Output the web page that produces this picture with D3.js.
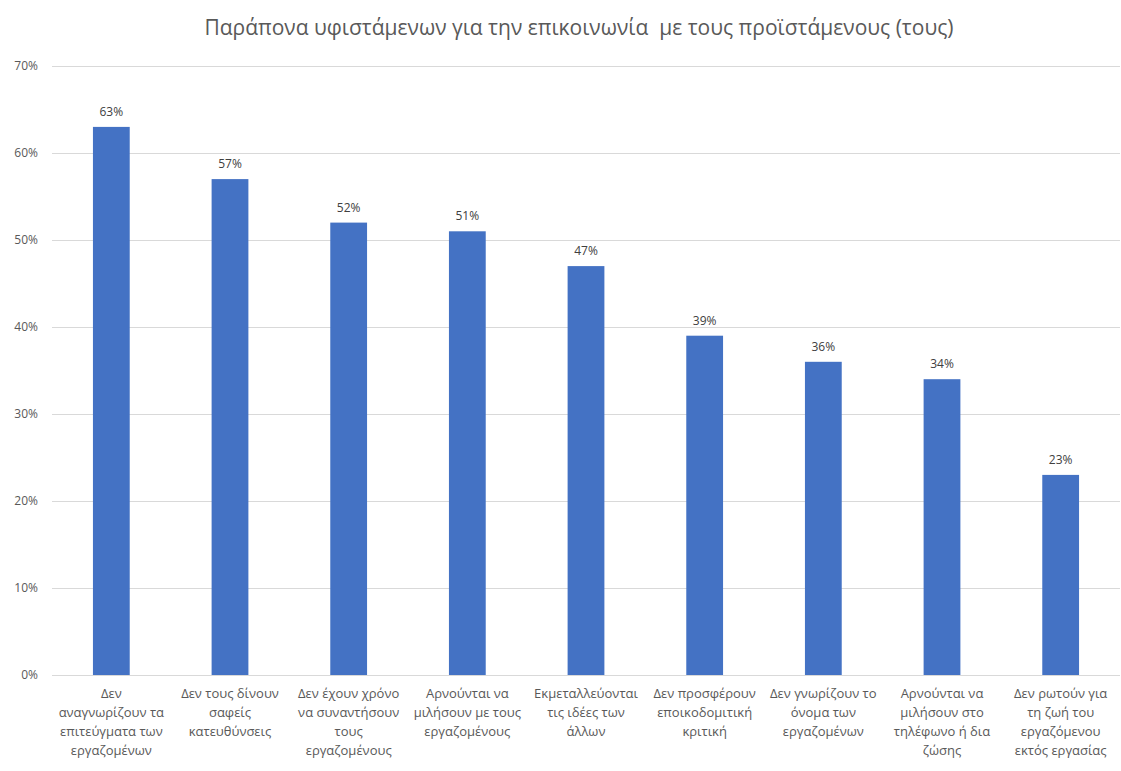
<!DOCTYPE html>
<html>
<head>
<meta charset="utf-8">
<script src="https://cdn.jsdelivr.net/npm/d3@7"></script>
<style>
	body { margin: 0; background: #fff; }
	svg { display: block; }
</style>
</head>
<body>
<script>
const categories = [
	['Δεν', 'αναγνωρίζουν τα', 'επιτεύγματα των', 'εργαζομένων'],
	['Δεν τους δίνουν', 'σαφείς', 'κατευθύνσεις'],
	['Δεν έχουν χρόνο', 'να συναντήσουν', 'τους', 'εργαζομένους'],
	['Αρνούνται να', 'μιλήσουν με τους', 'εργαζομένους'],
	['Εκμεταλλεύονται', 'τις ιδέες των', 'άλλων'],
	['Δεν προσφέρουν', 'εποικοδομιτική', 'κριτική'],
	['Δεν γνωρίζουν το', 'όνομα των', 'εργαζομένων'],
	['Αρνούνται να', 'μιλήσουν στο', 'τηλέφωνο ή δια', 'ζώσης'],
	['Δεν ρωτούν για', 'τη ζωή του', 'εργαζόμενου', 'εκτός εργασίας'],
]
const values = [0.63, 0.57, 0.52, 0.51, 0.47, 0.39, 0.36, 0.34, 0.23]
const yTicks = [0, 0.1, 0.2, 0.3, 0.4, 0.5, 0.6, 0.7]
const title = 'Παράπονα υφιστάμενων για την επικοινωνία  με τους προϊστάμενους (τους)'

const width = 1121
const height = 771
const margin = { top: 66, right: 1, bottom: 96, left: 52 }
const FONT = '"Open Sans", "Liberation Sans", sans-serif'

let svg = d3.select('body').append('svg')
	.attr('width', width)
	.attr('height', height)

let x = d3.scaleBand()
	.domain(d3.range(values.length))
	.range([margin.left, width - margin.right])
	.paddingInner(0.69)
	.paddingOuter(0.345)

let y = d3.scaleLinear()
	.domain([0, 0.7])
	.range([height - margin.bottom, margin.top])

// title (keep the double space)
svg.append('text')
	.attr('x', 579)
	.attr('y', 35)
	.attr('text-anchor', 'middle')
	.style('font-family', FONT)
	.style('font-size', '21px')
	.style('white-space', 'pre')
	.attr('fill', '#595959')
	.text(title)

// gridlines + y labels
let yAxis = d3.axisLeft(y)
	.tickValues(yTicks)
	.tickFormat(d3.format('.0%'))
	.tickSize(-(width - margin.left - margin.right))
	.tickPadding(14)

let yG = svg.append('g')
	.attr('transform', `translate(${margin.left},0)`)
	.call(yAxis)

yG.select('.domain').remove()
yG.selectAll('.tick line').attr('stroke', '#d9d9d9')
yG.selectAll('.tick text')
	.attr('fill', '#595959')
	.style('font-family', FONT)
	.style('font-size', '12px')

// bars
svg.selectAll('.bar')
	.data(values)
	.enter()
		.append('rect')
		.attr('class', 'bar')
		.attr('x', (d, i) => x(i))
		.attr('width', x.bandwidth())
		.attr('y', d => y(d))
		.attr('height', d => y(0) - y(d))
		.attr('fill', '#4472c4')

// value labels
svg.selectAll('.val')
	.data(values)
	.enter()
		.append('text')
		.attr('class', 'val')
		.attr('x', (d, i) => x(i) + x.bandwidth() / 2)
		.attr('y', d => y(d) - 11)
		.attr('text-anchor', 'middle')
		.style('font-family', FONT)
		.style('font-size', '12px')
		.attr('fill', '#404040')
		.text(d => Math.round(d * 100) + '%')

// category labels
let catG = svg.selectAll('.cat')
	.data(categories)
	.enter()
		.append('text')
		.attr('class', 'cat')
		.attr('text-anchor', 'middle')
		.style('font-family', FONT)
		.style('font-size', '13px')
		.attr('fill', '#595959')

catG.each(function (lines, i) {
	lines.forEach((line, li) => {
		d3.select(this).append('tspan')
			.attr('x', x(i) + x.bandwidth() / 2)
			.attr('y', 698 + li * 19)
			.text(line)
	})
})
</script>
</body>
</html>
